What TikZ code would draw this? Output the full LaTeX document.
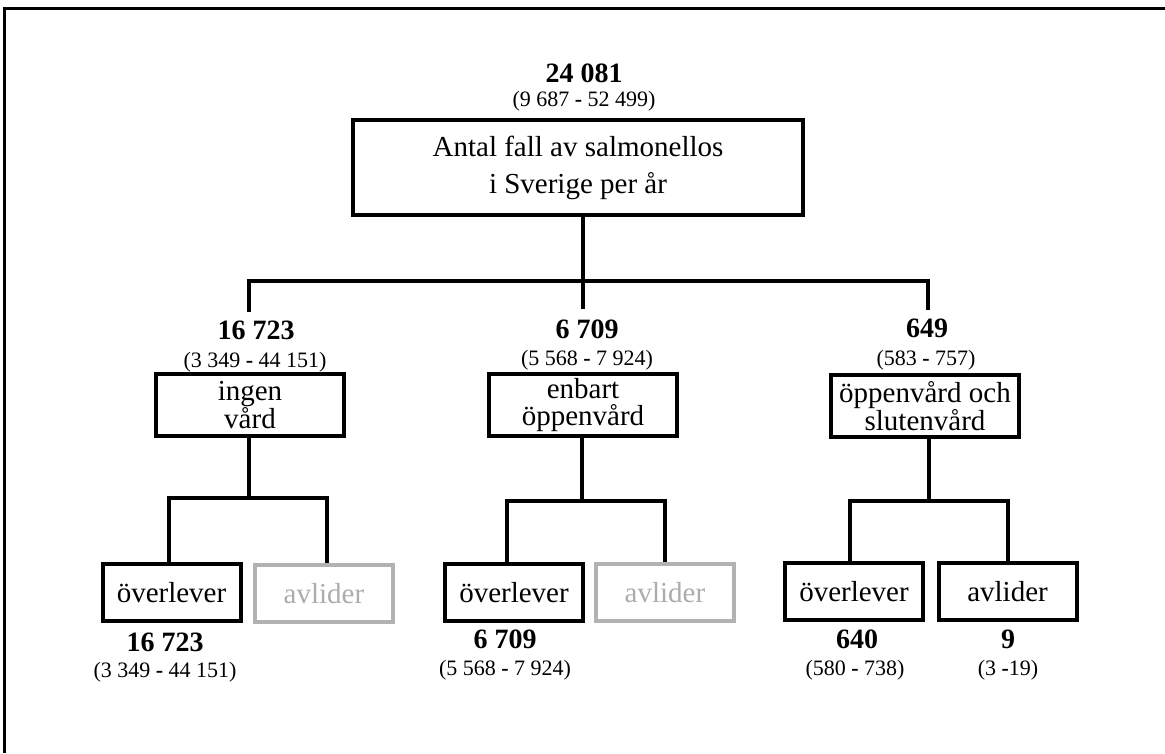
\documentclass[tikz,border=0pt]{standalone}
\usepackage{fontspec}
\setmainfont{Liberation Serif}
\begin{document}
\begin{tikzpicture}[x=1pt,y=-1pt,
  line width=4pt,
  num/.style={font=\fontsize{28}{30}\selectfont\bfseries, anchor=base, inner sep=0pt},
  ci/.style={font=\fontsize{22}{24}\selectfont, anchor=base, inner sep=0pt},
  bigbox/.style={draw, line width=4pt, inner sep=0pt, align=center, font=\fontsize{29}{37}\selectfont},
  midbox/.style={draw, line width=4pt, inner sep=0pt, align=center, font=\fontsize{29}{27}\selectfont, minimum width=188pt, minimum height=62pt},
  endbox/.style={draw, line width=4pt, inner sep=0pt, align=center, font=\fontsize{29}{31}\selectfont, minimum width=138pt, minimum height=57pt},
  greybox/.style={endbox, draw=gray!60, text=gray!65, line width=3.5pt},
  conn/.style={line width=4.5pt}
]
\useasboundingbox (0,0) rectangle (1165,753);
% frame
\draw[line width=3.5pt] (1165,8.5) -- (4.5,8.5) -- (4.5,753);

% root
\node[num] (rootnum) at (584,82) {24 081};
\node[ci] (rootci) at (584,106) {(9 687 \textbf{-} 52 499)};
\node[bigbox, minimum width=450pt, minimum height=95pt] (root) at (578,167.5) {Antal fall av salmonellos\\i Sverige per år};

% level 1 bar
\coordinate (j0) at (583,281);
\coordinate (j0a) at (249,281);
\coordinate (j0c) at (928,281);
\coordinate (d0a) at (249,312);
\coordinate (d0b) at (583,309);
\coordinate (d0c) at (928,310);
\draw[conn] (root.south -| j0) -- (j0);
\draw[conn] (d0a) -- (j0a) -- (j0c) -- (d0c);
\draw[conn] (j0) -- (d0b);

% level 2
\node[num] (n1) at (256,339) {16 723};
\node[ci] (c1) at (255,367) {(3 349 \textbf{-} 44 151)};
\node[midbox] (ingen) at (250,405) {ingen\\vård};

\node[num] (n2) at (587,338) {6 709};
\node[ci] (c2) at (587,365) {(5 568 \textbf{-} 7 924)};
\node[midbox] (enbart) at (583,405) {enbart\\öppenvård};

\node[num] (n3) at (927,337) {649};
\node[ci] (c3) at (926,365) {(583 \textbf{-} 757)};
\node[midbox] (oppen) at (925,406) {öppenvård och\\slutenvård};

% level 2 connectors
\coordinate (jL) at (249,498);
\coordinate (jLa) at (169,498);
\coordinate (jLb) at (327,498);
\coordinate (jM) at (582,501);
\coordinate (jMa) at (507,501);
\coordinate (jMb) at (665,501);
\coordinate (jR) at (929,501);
\coordinate (jRa) at (850,501);
\coordinate (jRb) at (1008,501);

% level 3 boxes
\node[endbox] (Lover) at (171.5,592.5) {överlever};
\node[greybox] (Lavl) at (324,593.5) {avlider};
\node[endbox] (Mover) at (514,592.5) {överlever};
\node[greybox] (Mavl) at (665,592.5) {avlider};
\node[endbox] (Rover) at (854,591.5) {överlever};
\node[endbox] (Ravl) at (1007.5,591.5) {avlider};

\draw[conn] (ingen.south -| jL) -- (jL);
\draw[conn] (Lover.north -| jLa) -- (jLa) -- (jLb) -- (Lavl.north -| jLb);
\draw[conn] (enbart.south -| jM) -- (jM);
\draw[conn] (Mover.north -| jMa) -- (jMa) -- (jMb) -- (Mavl.north -| jMb);
\draw[conn] (oppen.south -| jR) -- (jR);
\draw[conn] (Rover.north -| jRa) -- (jRa) -- (jRb) -- (Ravl.north -| jRb);

% level 3 labels
\node[num] (n4) at (165,651) {16 723};
\node[ci] (c4) at (165,677) {(3 349 \textbf{-} 44 151)};
\node[num] (n5) at (505,648) {6 709};
\node[ci] (c5) at (505,675) {(5 568 \textbf{-} 7 924)};
\node[num] (n6) at (857,648) {640};
\node[ci] (c6) at (855,675) {(580 \textbf{-} 738)};
\node[num] (n7) at (1008,648) {9};
\node[ci] (c7) at (1008,675) {(3 \textbf{-}19)};
\end{tikzpicture}
\end{document}
